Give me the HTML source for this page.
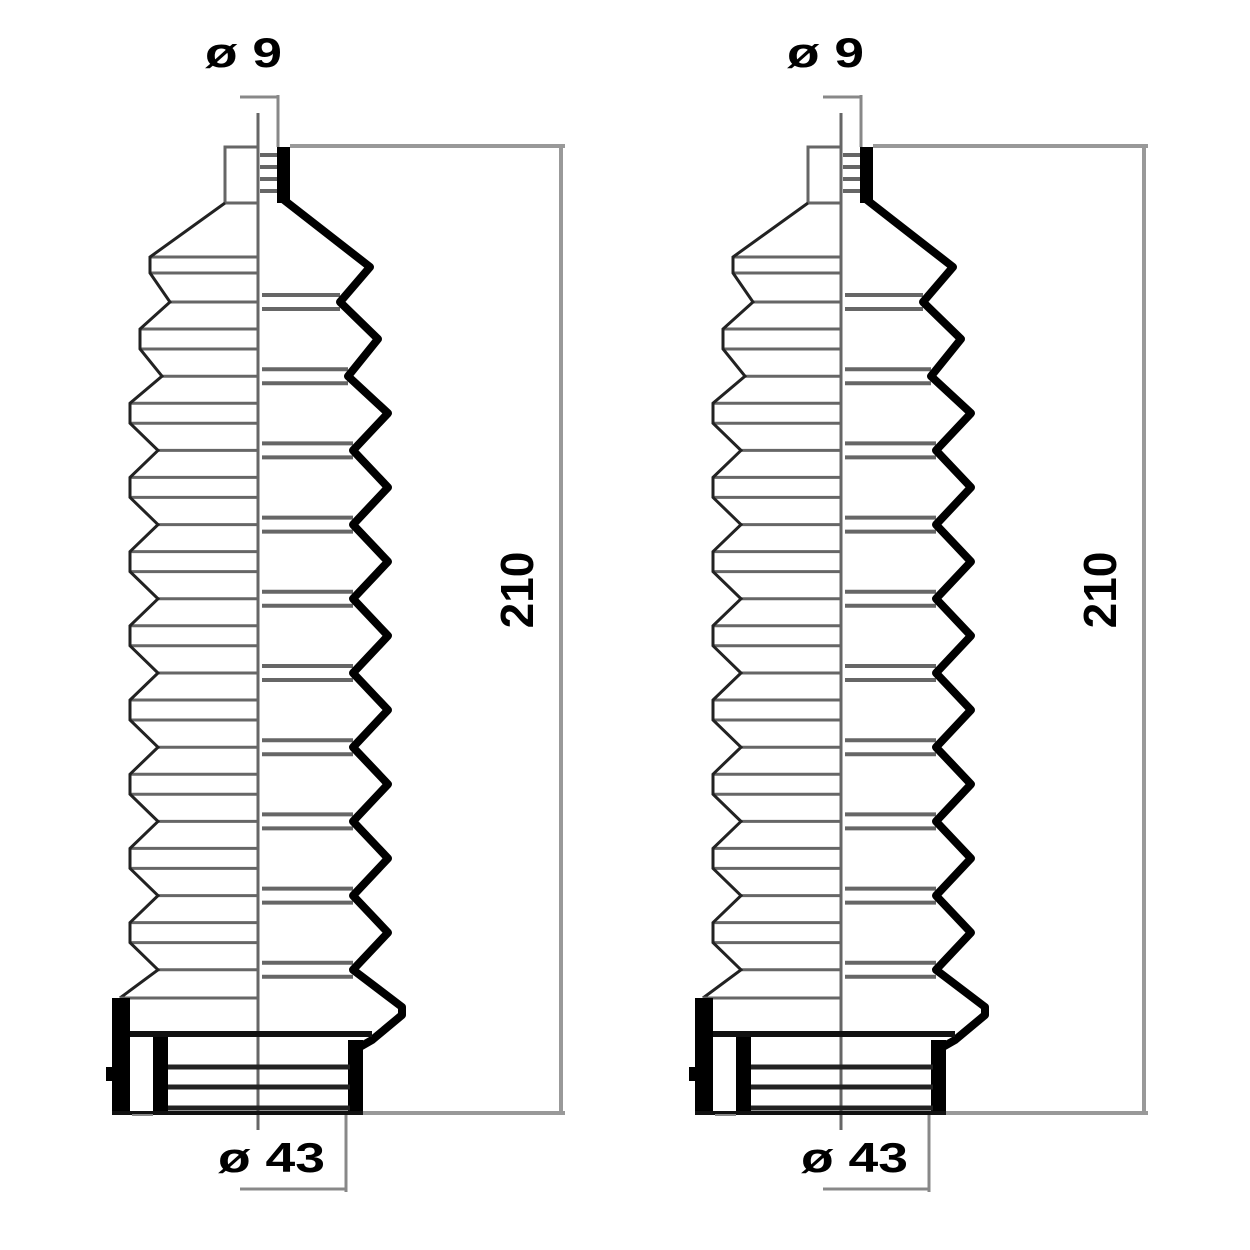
<!DOCTYPE html>
<html><head><meta charset="utf-8"><style>
html,body{margin:0;padding:0;background:#fff;width:1250px;height:1250px;overflow:hidden}
svg{display:block}
text{font-family:"Liberation Sans",sans-serif;font-weight:bold;fill:#000}
</style></head><body>
<svg id="s" width="1250" height="1250" viewBox="0 0 1250 1250" xmlns="http://www.w3.org/2000/svg">
<g id="g0"></g>
<g id="g1" transform="translate(583,0)"></g>
<text x="205" y="67" font-size="42" textLength="77" lengthAdjust="spacingAndGlyphs">ø 9</text>
<text x="787" y="67" font-size="42" textLength="77" lengthAdjust="spacingAndGlyphs">ø 9</text>
<text x="218" y="1172" font-size="42" textLength="107" lengthAdjust="spacingAndGlyphs">ø 43</text>
<text x="801" y="1172" font-size="42" textLength="107" lengthAdjust="spacingAndGlyphs">ø 43</text>
<text transform="translate(533,590) rotate(-90)" font-size="46" text-anchor="middle">210</text>
<text transform="translate(1116,590) rotate(-90)" font-size="46" text-anchor="middle">210</text>
</svg>
<script>
function build(g){
 var h='';
 function L(x1,y1,x2,y2,c,w){h+='<line x1="'+x1+'" y1="'+y1+'" x2="'+x2+'" y2="'+y2+'" stroke="'+c+'" stroke-width="'+w+'"/>';}
 var G='#666',C=258;
 L(C,113,C,1130,G,3);
 L(278,95,278,147,'#888',3); L(240,97,278,97,'#888',3);
 L(290,146,565,146,'#999',4); L(363,1113,565,1113,'#999',4);
 L(561,146,561,1113,'#999',4);
 L(346,1113,346,1192,'#888',3); L(240,1189,346,1189,'#888',3);
 h+='<path d="M258 147 H225 V203 H258" fill="none" stroke="'+G+'" stroke-width="3"/>';
 for(var i=0;i<4;i++)L(260,155+i*12,278,155+i*12,G,4);
 var inner=[],P=74.2;
 for(var k=0;k<10;k++)inner.push(302+P*k);
 var lo=[150,140],li=[170,162],ro=[370,378],ri=[340,348];
 function get(a,k,d){return k<a.length?a[k]:d;}
 var lp='M225 203';
 var y0=inner[0]-37;
 lp+=' L150 '+(y0-8)+' L150 '+(y0+8);
 for(var k=0;k<10;k++){
  var yi=inner[k],xi=get(li,k,158);
  lp+=' L'+xi+' '+yi;
  L(xi,yi,C,yi,G,3);
  if(k<9){var yo=yi+37,xo=get(lo,k+1,130);lp+=' L'+xo+' '+(yo-10)+' L'+xo+' '+(yo+10);
   L(xo,yo-10,C,yo-10,G,3);L(xo,yo+10,C,yo+10,G,3);}
 }
 L(150,y0-8,C,y0-8,G,3);L(150,y0+8,C,y0+8,G,3);
 lp+=' L120 998';
 h+='<path d="'+lp+'" fill="none" stroke="#222" stroke-width="3"/>';
 L(120,998,C,998,G,3);
 h+='<rect x="277" y="147" width="13" height="56" fill="#000"/>';
 var rp='M284 200 L'+ro[0]+' '+(inner[0]-35);
 for(var k=0;k<10;k++){
  var yi=inner[k],xi=get(ri,k,353);
  rp+=' L'+xi+' '+yi;
  L(262,yi-7,xi,yi-7,G,4);L(262,yi+7,xi,yi+7,G,4);
  if(k<9){var yo=yi+37;rp+=' L'+get(ro,k+1,388)+' '+yo;}
 }
 rp+=' L402 1007 V1015 L372 1040 L358 1048';
 h+='<path d="'+rp+'" fill="none" stroke="#000" stroke-width="8" stroke-linejoin="round"/>';
 h+='<rect x="112" y="998" width="18" height="117" fill="#000"/>';
 h+='<rect x="106" y="1067" width="8" height="14" fill="#000"/>';
 h+='<rect x="153" y="1032" width="15" height="83" fill="#000"/>';
 h+='<rect x="348" y="1040" width="15" height="75" fill="#000"/>';
 L(130,1034,372,1034,'#111',6);
 L(168,1067,350,1067,'#222',5);L(168,1087,350,1087,'#222',5);L(168,1108,350,1108,'#222',5);
 L(112,1113,363,1113,'#111',4);
 L(132,1115,153,1115,'#888',2);
 document.getElementById(g).innerHTML=h;
}
build('g0');build('g1');
</script>
</body></html>
